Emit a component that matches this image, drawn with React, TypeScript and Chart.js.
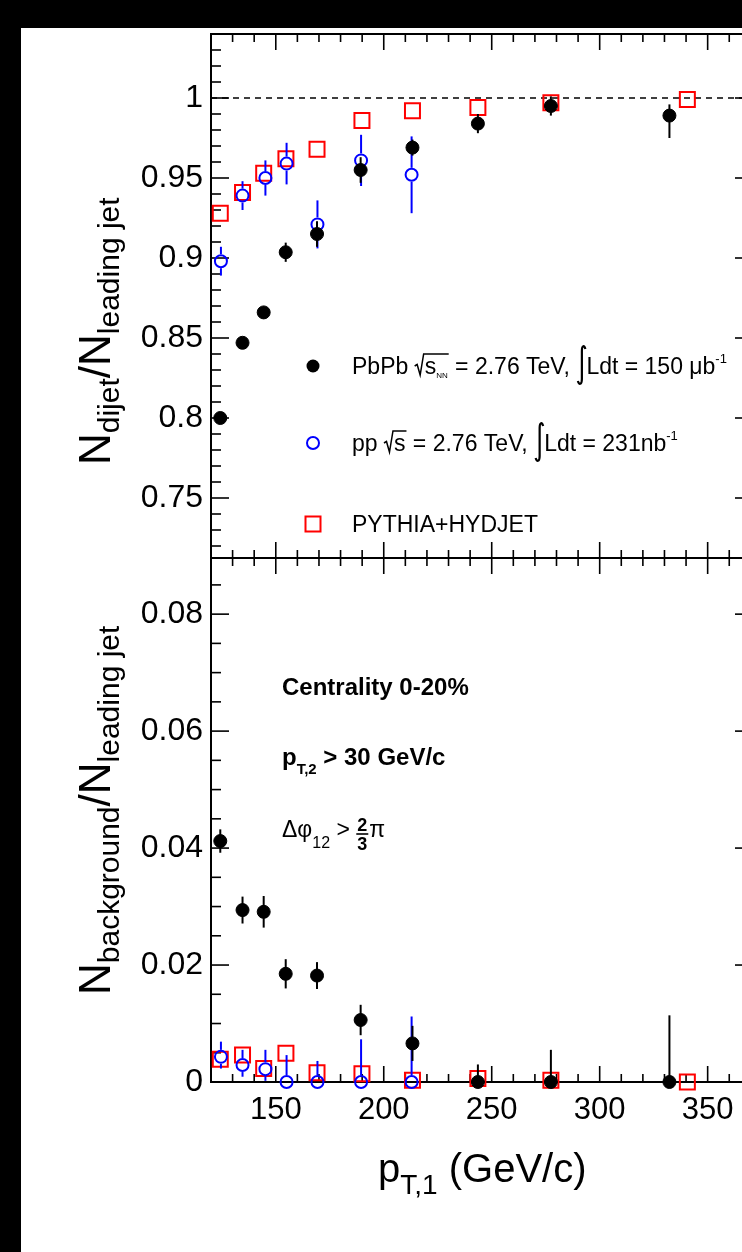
import React, { useEffect, useRef } from 'react';
import { Chart, registerables } from 'chart.js';

Chart.register(...registerables);

const FONT = '"Liberation Sans", Arial, Helvetica, sans-serif';

// ---- data: leading-jet pT (GeV/c) per series ----
const pbpbPt = [124.3, 134.6, 144.4, 154.6, 169.1, 189.3, 213.3, 243.6, 277.4, 332.3];
const ppPt = [124.6, 134.6, 145.2, 155.0, 169.3, 189.5, 212.9];
const pythiaPt = [124.3, 134.6, 144.4, 154.7, 169.1, 189.9, 213.3, 243.6, 277.4, 340.6];

// upper panel: N_dijet / N_leading jet
const pbpbDijet = [0.8, 0.847, 0.866, 0.9036, 0.915, 0.955, 0.969, 0.984, 0.995, 0.989];
const pbpbDijetErrLo = [0.003, 0.003, 0.003, 0.006, 0.008, 0.008, 0.005, 0.006, 0.006, 0.014];
const pbpbDijetErrHi = [0.003, 0.003, 0.003, 0.006, 0.008, 0.008, 0.005, 0.006, 0.006, 0.007];
const ppDijet = [0.898, 0.939, 0.95, 0.959, 0.921, 0.961, 0.952];
const ppDijetErr = [0.009, 0.009, 0.011, 0.013, 0.015, 0.016, 0.024];
const pythiaDijet = [0.928, 0.941, 0.953, 0.962, 0.968, 0.986, 0.992, 0.994, 0.997, 0.999];

// lower panel: N_background / N_leading jet
const pbpbBkg = [0.0412, 0.0294, 0.0291, 0.0185, 0.0182, 0.0106, 0.0066, 0, 0, 0];
const pbpbBkgErrLo = [0.002, 0.0023, 0.0027, 0.0025, 0.0023, 0.0026, 0.003, 0, 0, 0];
const pbpbBkgErrHi = [0.002, 0.0023, 0.0027, 0.0025, 0.0023, 0.0026, 0.003, 0.003, 0.0055, 0.0114];
const ppBkg = [0.0043, 0.0029, 0.0022, 0, 0, 0, 0];
const ppBkgErrLo = [0.002, 0.002, 0.002, 0, 0, 0, 0];
const ppBkgErrHi = [0.0026, 0.0026, 0.0033, 0.0046, 0.0036, 0.0073, 0.0112];
const pythiaBkg = [0.0039, 0.0046, 0.0023, 0.0049, 0.0016, 0.0014, 0.0003, 0.0006, 0.0003, 0];

// ---- axes ----
const xMin = 120;
const xMax = 371;
const xMajorTicks = [150, 200, 250, 300, 350];
const xMinorTicks = [130, 140, 160, 170, 180, 190, 210, 220, 230, 240, 260, 270, 280, 290, 310, 320, 330, 340, 360, 370];

const upperYMin = 0.7125;
const upperYMax = 1.04;
const upperYMajor = [0.75, 0.8, 0.85, 0.9, 0.95, 1];
const upperYMinor = [0.72, 0.73, 0.74, 0.76, 0.77, 0.78, 0.79, 0.81, 0.82, 0.83, 0.84, 0.86, 0.87, 0.88, 0.89,
  0.91, 0.92, 0.93, 0.94, 0.96, 0.97, 0.98, 0.99, 1.01, 1.02, 1.03];
const referenceLine = 1;

const lowerYMin = 0;
const lowerYMax = 0.0896;
const lowerYMajor = [0, 0.02, 0.04, 0.06, 0.08];
const lowerYMinor = [0.005, 0.01, 0.015, 0.025, 0.03, 0.035, 0.045, 0.05, 0.055, 0.065, 0.07, 0.075, 0.085];

// ---- text helpers ----
type Seg = { t: string; size: number; bold?: boolean; dy?: number };

function drawSegs(ctx: CanvasRenderingContext2D, x: number, y: number, segs: Seg[]): number {
  let cx = x;
  ctx.textBaseline = 'alphabetic';
  ctx.textAlign = 'left';
  for (const s of segs) {
    ctx.font = `${s.bold ? 'bold ' : ''}${s.size}px ${FONT}`;
    ctx.fillText(s.t, cx, y + (s.dy || 0));
    cx += ctx.measureText(s.t).width;
  }
  return cx;
}

function drawSqrt(ctx: CanvasRenderingContext2D, x: number, y: number, content: (x0: number) => number): number {
  const end = content(x + 10);
  ctx.save();
  ctx.lineWidth = 1.5;
  ctx.strokeStyle = '#000';
  ctx.beginPath();
  ctx.moveTo(x, y - 8);
  ctx.lineTo(x + 2.5, y - 9.5);
  ctx.lineTo(x + 5.5, y + 1);
  ctx.lineTo(x + 9, y - 20);
  ctx.lineTo(end + 1, y - 20);
  ctx.stroke();
  ctx.restore();
  return end;
}

function drawIntegral(ctx: CanvasRenderingContext2D, x: number, y: number): number {
  const x0 = x + 5;
  const yTop = y - 28;
  const yBot = y + 10;
  ctx.save();
  ctx.lineWidth = 2.2;
  ctx.strokeStyle = '#000';
  ctx.beginPath();
  ctx.moveTo(x0 + 4, yTop + 3);
  ctx.bezierCurveTo(x0 + 3, yTop - 1, x0 + 0.5, yTop - 1, x0 + 0.5, yTop + 5);
  ctx.lineTo(x0 + 0.5, yBot - 5);
  ctx.bezierCurveTo(x0 + 0.5, yBot + 1, x0 - 2.5, yBot + 1, x0 - 3.5, yBot - 3);
  ctx.stroke();
  ctx.restore();
  return x + 10;
}

function drawRotated(ctx: CanvasRenderingContext2D, x: number, y: number, segs: Seg[]) {
  ctx.save();
  ctx.translate(x, y);
  ctx.rotate(-Math.PI / 2);
  drawSegs(ctx, 0, 0, segs);
  ctx.restore();
}

// ---- plugins ----
function framePlugin(yMajor: number[], yMinor: number[], dashed: boolean) {
  return {
    id: 'rootFrame',
    beforeDatasetsDraw(chart: any) {
      const { ctx, chartArea: a, scales } = chart;
      const xs = scales.x;
      const ys = scales.y;
      ctx.save();
      ctx.strokeStyle = '#000';
      const seg = (x1: number, y1: number, x2: number, y2: number) => {
        ctx.beginPath();
        ctx.moveTo(x1, y1);
        ctx.lineTo(x2, y2);
        ctx.stroke();
      };
      ctx.lineWidth = 1.6;
      xMajorTicks.forEach((v) => {
        const p = xs.getPixelForValue(v);
        seg(p, a.bottom, p, a.bottom - 16);
        seg(p, a.top, p, a.top + 16);
      });
      xMinorTicks.forEach((v) => {
        const p = xs.getPixelForValue(v);
        seg(p, a.bottom, p, a.bottom - 8);
        seg(p, a.top, p, a.top + 8);
      });
      yMajor.forEach((v) => {
        const p = ys.getPixelForValue(v);
        seg(a.left, p, a.left + 18, p);
        seg(a.right, p, a.right - 18, p);
      });
      yMinor.forEach((v) => {
        const p = ys.getPixelForValue(v);
        seg(a.left, p, a.left + 10, p);
        seg(a.right, p, a.right - 10, p);
      });
      ctx.lineWidth = 2;
      ctx.strokeRect(a.left, a.top, a.right - a.left, a.bottom - a.top);
      if (dashed) {
        const p = ys.getPixelForValue(referenceLine);
        ctx.lineWidth = 1.6;
        ctx.setLineDash([6, 5]);
        seg(a.left, p, a.right, p);
        ctx.setLineDash([]);
      }
      ctx.restore();
    },
  };
}

const errorBarPlugin = {
  id: 'errorBars',
  beforeDatasetDraw(chart: any, args: any) {
    const ds = chart.data.datasets[args.index];
    if (!ds.errLo || !ds.errHi) return;
    const ctx = chart.ctx;
    const xs = chart.scales.x;
    const ys = chart.scales.y;
    ctx.save();
    ctx.strokeStyle = ds.pointBorderColor;
    ctx.lineWidth = 2;
    const gap = ds.errGap || 0;
    ds.data.forEach((p: any, i: number) => {
      const px = xs.getPixelForValue(p.x);
      const py = ys.getPixelForValue(p.y);
      const yTop = ys.getPixelForValue(p.y + ds.errHi[i]);
      const yBot = ys.getPixelForValue(p.y - ds.errLo[i]);
      if (yTop < py - gap) {
        ctx.beginPath();
        ctx.moveTo(px, py - gap);
        ctx.lineTo(px, yTop);
        ctx.stroke();
      }
      if (yBot > py + gap) {
        ctx.beginPath();
        ctx.moveTo(px, py + gap);
        ctx.lineTo(px, yBot);
        ctx.stroke();
      }
    });
    ctx.restore();
  },
};

const upperOverlay = {
  id: 'upperOverlay',
  afterDraw(chart: any) {
    const ctx: CanvasRenderingContext2D = chart.ctx;
    ctx.save();
    ctx.fillStyle = '#000';
    // y title
    drawRotated(ctx, 110, 465, [
      { t: 'N', size: 44 },
      { t: 'dijet', size: 30, dy: 9 },
      { t: '/N', size: 44 },
      { t: 'leading jet', size: 30, dy: 9 },
    ]);
    // legend markers
    const mx = 313;
    const rows = [366, 443, 524];
    ctx.beginPath();
    ctx.arc(mx, rows[0], 6.5, 0, Math.PI * 2);
    ctx.fill();
    ctx.strokeStyle = '#0000ff';
    ctx.lineWidth = 2;
    ctx.beginPath();
    ctx.arc(mx, rows[1], 6, 0, Math.PI * 2);
    ctx.stroke();
    ctx.strokeStyle = '#ff0000';
    ctx.strokeRect(mx - 7.5, rows[2] - 7.5, 15, 15);
    // legend text
    const fs = 23;
    const tx = 352;
    let y = rows[0] + 8;
    let cx = drawSegs(ctx, tx, y, [{ t: 'PbPb ', size: fs }]);
    cx = drawSqrt(ctx, cx, y, (x0) => drawSegs(ctx, x0, y, [{ t: 's', size: fs }, { t: 'NN', size: 8, dy: 4 }]));
    cx = drawSegs(ctx, cx + 1, y, [{ t: ' = 2.76 TeV, ', size: fs }]);
    cx = drawIntegral(ctx, cx, y);
    drawSegs(ctx, cx, y, [{ t: 'Ldt = 150 \u03bcb', size: fs }, { t: '-1', size: 13, dy: -11 }]);

    y = rows[1] + 8;
    cx = drawSegs(ctx, tx, y, [{ t: 'pp ', size: fs }]);
    cx = drawSqrt(ctx, cx, y, (x0) => drawSegs(ctx, x0, y, [{ t: 's', size: fs }]));
    cx = drawSegs(ctx, cx + 1, y, [{ t: ' = 2.76 TeV, ', size: fs }]);
    cx = drawIntegral(ctx, cx, y);
    drawSegs(ctx, cx, y, [{ t: 'Ldt = 231nb', size: fs }, { t: '-1', size: 13, dy: -11 }]);

    drawSegs(ctx, tx, rows[2] + 8, [{ t: 'PYTHIA+HYDJET', size: fs }]);
    ctx.restore();
  },
};

const OFF = 540; // lower canvas page offset
const lowerOverlay = {
  id: 'lowerOverlay',
  afterDraw(chart: any) {
    const ctx: CanvasRenderingContext2D = chart.ctx;
    ctx.save();
    ctx.fillStyle = '#000';
    drawRotated(ctx, 110, 995 - OFF, [
      { t: 'N', size: 44 },
      { t: 'background', size: 30, dy: 9 },
      { t: '/N', size: 44 },
      { t: 'leading jet', size: 30, dy: 9 },
    ]);
    drawSegs(ctx, 282, 695 - OFF, [{ t: 'Centrality 0-20%', size: 24, bold: true }]);
    drawSegs(ctx, 282, 765 - OFF, [
      { t: 'p', size: 24, bold: true },
      { t: 'T,2', size: 15, bold: true, dy: 9 },
      { t: ' > 30 GeV/c', size: 24, bold: true },
    ]);
    const by = 837 - OFF;
    let cx = drawSegs(ctx, 282, by, [
      { t: '\u0394\u03c6', size: 23 },
      { t: '12', size: 16, dy: 11 },
      { t: ' > ', size: 23 },
    ]);
    // fraction 2/3
    ctx.font = `bold 18px ${FONT}`;
    const w = ctx.measureText('2').width;
    ctx.textAlign = 'left';
    ctx.fillText('2', cx + 1, by - 6);
    ctx.fillText('3', cx + 1, by + 13);
    ctx.lineWidth = 1.6;
    ctx.strokeStyle = '#000';
    ctx.beginPath();
    ctx.moveTo(cx, by - 3);
    ctx.lineTo(cx + w + 2, by - 3);
    ctx.stroke();
    cx += w + 3;
    drawSegs(ctx, cx, by, [{ t: '\u03c0', size: 23 }]);
    // x title
    drawSegs(ctx, 378, 1182 - OFF, [
      { t: 'p', size: 40 },
      { t: 'T,1', size: 28, dy: 12 },
      { t: ' (GeV/c)', size: 40 },
    ]);
    ctx.restore();
  },
};

// ---- dataset builders ----
function pts(xs: number[], ys: number[]) {
  return xs.map((x, i) => ({ x, y: ys[i] }));
}

function blackSet(data: any, lo: number[], hi: number[]) {
  return {
    label: 'PbPb', data, showLine: false, clip: false,
    pointStyle: 'circle', pointRadius: 6.5,
    pointBackgroundColor: '#000', pointBorderColor: '#000', pointBorderWidth: 1,
    errLo: lo, errHi: hi, errGap: 0,
  };
}
function blueSet(data: any, lo: number[], hi: number[]) {
  return {
    label: 'pp', data, showLine: false, clip: false,
    pointStyle: 'circle', pointRadius: 6,
    pointBackgroundColor: 'rgba(0,0,0,0)', pointBorderColor: '#0000ff', pointBorderWidth: 2,
    errLo: lo, errHi: hi, errGap: 7,
  };
}
function redSet(data: any) {
  return {
    label: 'PYTHIA+HYDJET', data, showLine: false, clip: false,
    pointStyle: 'rect', pointRadius: 10.6,
    pointBackgroundColor: 'rgba(0,0,0,0)', pointBorderColor: '#ff0000', pointBorderWidth: 2,
  };
}

function noPad(s: any) {
  s.paddingTop = 0;
  s.paddingBottom = 0;
  s.paddingLeft = 0;
  s.paddingRight = 0;
}

function yScale(min: number, max: number, ticks: number[]) {
  return {
    type: 'linear', min, max,
    afterFit: (s: any) => { s.width = 211; noPad(s); },
    afterBuildTicks: (s: any) => { s.ticks = ticks.map((v) => ({ value: v })); },
    grid: { display: false, drawTicks: false },
    border: { display: false },
    ticks: { padding: 8, color: '#000', font: { family: FONT, size: 32 }, callback: (v: any) => String(v) },
  };
}

const CW = 790;

export default function App() {
  const topRef = useRef<HTMLCanvasElement>(null);
  const botRef = useRef<HTMLCanvasElement>(null);

  useEffect(() => {
    const c1 = new Chart(topRef.current as HTMLCanvasElement, {
      type: 'scatter',
      data: {
        datasets: [
          blackSet(pts(pbpbPt, pbpbDijet), pbpbDijetErrLo, pbpbDijetErrHi),
          blueSet(pts(ppPt, ppDijet), ppDijetErr, ppDijetErr),
          redSet(pts(pythiaPt, pythiaDijet)),
        ] as any,
      },
      options: {
        animation: false,
        responsive: false,
        events: [],
        layout: { autoPadding: false, padding: { left: 0, top: 34, right: CW - 753, bottom: 12 } },
        plugins: { legend: { display: false }, tooltip: { enabled: false } },
        scales: {
          x: { type: 'linear', min: xMin, max: xMax, display: false, afterFit: noPad },
          y: yScale(upperYMin, upperYMax, upperYMajor) as any,
        },
      } as any,
      plugins: [framePlugin(upperYMajor, upperYMinor, true), errorBarPlugin, upperOverlay],
    });

    const c2 = new Chart(botRef.current as HTMLCanvasElement, {
      type: 'scatter',
      data: {
        datasets: [
          blackSet(pts(pbpbPt, pbpbBkg), pbpbBkgErrLo, pbpbBkgErrHi),
          blueSet(pts(ppPt, ppBkg), ppBkgErrLo, ppBkgErrHi),
          redSet(pts(pythiaPt, pythiaBkg)),
        ] as any,
      },
      options: {
        animation: false,
        responsive: false,
        events: [],
        layout: { autoPadding: false, padding: { left: 0, top: 18, right: CW - 753, bottom: 110 } },
        plugins: { legend: { display: false }, tooltip: { enabled: false } },
        scales: {
          x: {
            type: 'linear', min: xMin, max: xMax, position: 'bottom',
            afterFit: (s: any) => { s.height = 60; noPad(s); },
            afterBuildTicks: (s: any) => { s.ticks = xMajorTicks.map((v) => ({ value: v })); },
            grid: { display: false, drawTicks: false },
            border: { display: false },
            ticks: { padding: 10, color: '#000', autoSkip: false, maxRotation: 0, font: { family: FONT, size: 31 }, callback: (v: any) => String(v) },
          } as any,
          y: yScale(lowerYMin, lowerYMax, lowerYMajor) as any,
        },
      } as any,
      plugins: [framePlugin(lowerYMajor, lowerYMinor, false), errorBarPlugin, lowerOverlay],
    });

    return () => {
      c1.destroy();
      c2.destroy();
    };
  }, []);

  return (
    <div style={{ position: 'fixed', left: 0, top: 0, width: 742, height: 1252, background: '#000', overflow: 'hidden' }}>
      <div style={{ position: 'absolute', left: 21, top: 28, width: 800, height: 1300, background: '#fff' }} />
      <canvas ref={topRef} width={CW} height={570} style={{ position: 'absolute', left: 0, top: 0 }} />
      <canvas ref={botRef} width={CW} height={712} style={{ position: 'absolute', left: 0, top: OFF }} />
    </div>
  );
}
